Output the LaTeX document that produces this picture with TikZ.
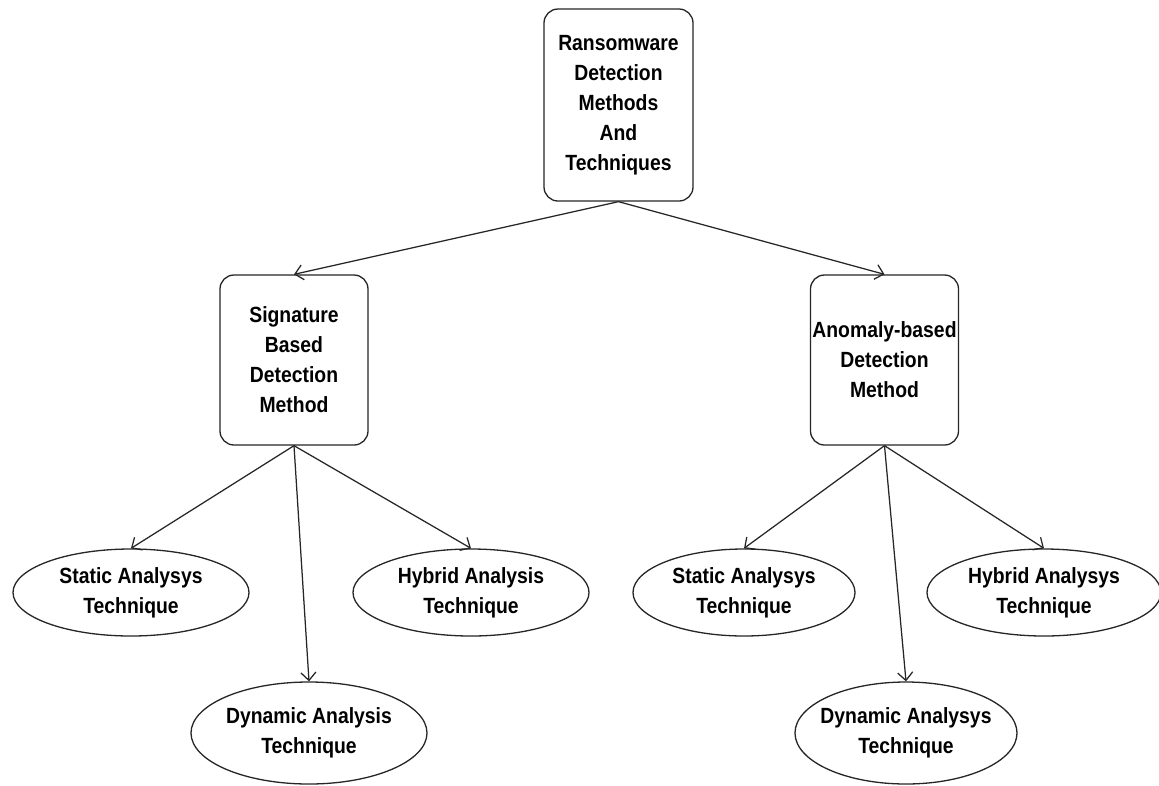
\documentclass[tikz,border=0pt]{standalone}
\usepackage{fontspec}
\setmainfont{Liberation Sans}[FakeStretch=0.88]
\usetikzlibrary{arrows.meta,shapes}

\tikzset{
  methodbox/.style={draw=black!85, line width=1.3pt, rectangle, rounded corners=14pt,
    align=center, inner sep=0pt, minimum width=148pt,
    font=\bfseries\fontsize{22}{30}\selectfont},
  techbox/.style={draw=black!85, line width=1.3pt, ellipse, align=center, inner sep=0pt,
    minimum width=236pt, minimum height=87pt,
    font=\bfseries\fontsize{22}{30}\selectfont},
  link/.style={draw=black!85, line width=1.25pt, -{Straight Barb[length=8pt,width=15pt]}}
}

\begin{document}
\begin{tikzpicture}[x=1pt, y=-1pt]
        \useasboundingbox[fill=white] (0,0) rectangle (1159,785);
        % Draw the root box
        \node[methodbox, minimum width=149pt, minimum height=192pt] (root) at (618.5,105)
        {Ransomware\\Detection\\Methods\\And\\Techniques};
        % Draw the two method boxes
        \node[methodbox, minimum height=170pt] (signature) at (294,360)
        {Signature\\Based\\Detection\\Method};
        \node[methodbox, minimum height=170pt] (anomaly) at (884.5,360)
        {Anomaly-based\\Detection\\Method};
        % Draw techniques under signature
        \node[techbox] (sigstatic) at (131,592.5) {Static Analysys\\Technique};
        \node[techbox] (sighybrid) at (471,592.5) {Hybrid Analysis\\Technique};
        \node[techbox, minimum height=102pt] (sigdynamic) at (309,733) {Dynamic Analysis\\Technique};
        % Draw techniques under anomaly
        \node[techbox, minimum width=222pt] (anostatic) at (744,592.5) {Static Analysys\\Technique};
        \node[techbox, minimum width=234pt] (anohybrid) at (1044,592.5) {Hybrid Analysys\\Technique};
        \node[techbox, inner xsep=-12pt, minimum width=222pt, minimum height=102pt] (anodynamic) at (906,733)
        {Dynamic Analysys\\Technique};
        % Draw the arrows
        \draw[link] (root.south) -- (signature.north);
        \draw[link] (root.south) -- (anomaly.north);
        \foreach \child in {sigstatic, sighybrid, sigdynamic}
        \draw[link] (signature.south) -- (\child.north);
        \foreach \child in {anostatic, anohybrid, anodynamic}
        \draw[link] (anomaly.south) -- (\child.north);
    \end{tikzpicture}
\end{document}
